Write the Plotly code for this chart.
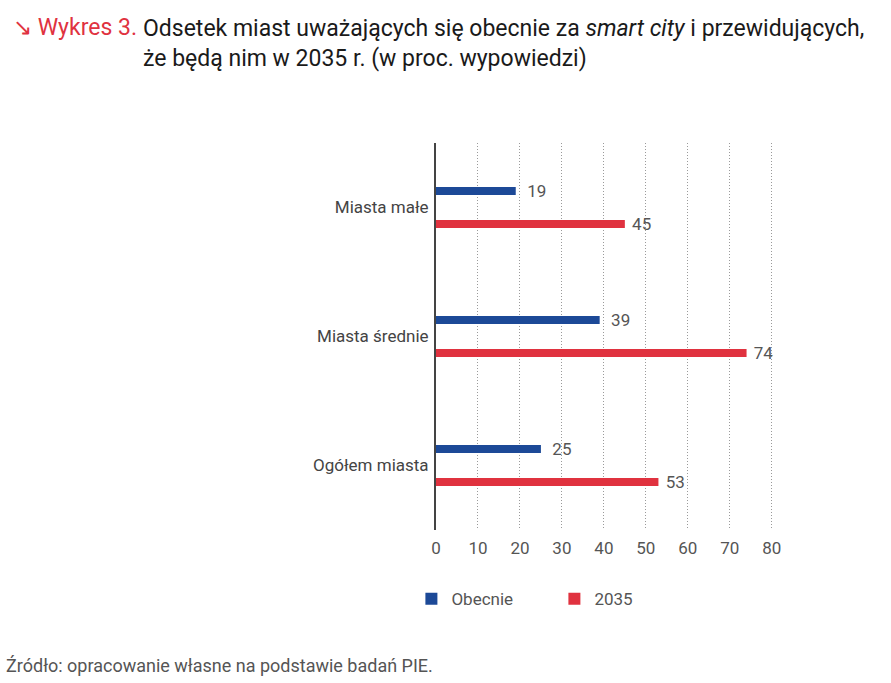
import plotly.graph_objects as go

categories = ["Miasta małe", "Miasta średnie", "Ogółem miasta"]
obecnie = [19, 39, 25]
r2035 = [45, 74, 53]
x_ticks = [0, 10, 20, 30, 40, 50, 60, 70, 80]

BLUE = "#1c4997"
RED = "#e0323f"
GREY = "#555555"
FONT = "Roboto"

fig = go.Figure()
fig.add_trace(go.Bar(
    name="Obecnie", y=categories, x=obecnie, orientation="h",
    marker=dict(color=BLUE, line=dict(width=0)),
    width=0.062, offset=-0.158,
    text=obecnie, textposition="outside", cliponaxis=False, constraintext="none",
    textfont=dict(family=FONT, size=17, color=GREY),
    texttemplate="  %{x}",
))
fig.add_trace(go.Bar(
    name="2035", y=categories, x=r2035, orientation="h",
    marker=dict(color=RED, line=dict(width=0)),
    width=0.062, offset=0.096,
    text=r2035, textposition="outside", cliponaxis=False, constraintext="none",
    textfont=dict(family=FONT, size=17, color=GREY),
    texttemplate=" %{x}",
))

fig.update_layout(
    width=891, height=683,
    margin=dict(l=436, r=118, t=143, b=153),
    paper_bgcolor="white", plot_bgcolor="white",
    barmode="overlay",
    font=dict(family=FONT, size=17, color=GREY),
    showlegend=True,
    legend=dict(orientation="h", x=-0.073, xanchor="left", y=-0.132, yanchor="top",
                font=dict(family=FONT, size=17, color=GREY),
                entrywidth=98, entrywidthmode="pixels"),
    xaxis=dict(range=[0, 80.3], tickvals=x_ticks, showgrid=True, gridcolor="#9a9a9a",
               griddash="1px,2px", gridwidth=1, zeroline=False, showline=False,
               tickfont=dict(family=FONT, size=17, color=GREY),
               ticks="outside", ticklen=3, tickcolor="rgba(0,0,0,0)"),
    yaxis=dict(type="category", autorange="reversed", showgrid=False, zeroline=False,
               showline=True, linecolor="#444444", linewidth=2,
               tickfont=dict(family=FONT, size=17, color="#444444"),
               ticks="outside", ticklen=2, tickcolor="rgba(0,0,0,0)"),
)

fig.add_annotation(xref="paper", yref="paper", x=(14 - 436) / 335, y=1 + (143 - 27) / 387,
                   xanchor="left", yanchor="middle", showarrow=False,
                   text="↘ Wykres 3.", font=dict(family=FONT, size=23, color=RED))
fig.add_annotation(xref="paper", yref="paper", x=(143 - 436) / 335, y=1 + (143 - 43) / 387,
                   xanchor="left", yanchor="middle", showarrow=False, align="left",
                   text="Odsetek miast uważających się obecnie za <i>smart city</i> i przewidujących,<br>że będą nim w 2035 r. (w proc. wypowiedzi)",
                   font=dict(family=FONT, size=23, color="#1a1a1a"))
fig.add_annotation(xref="paper", yref="paper", x=(7 - 436) / 335, y=-(665 - 530) / 387,
                   xanchor="left", yanchor="middle", showarrow=False,
                   text="Źródło: opracowanie własne na podstawie badań PIE.",
                   font=dict(family=FONT, size=18, color=GREY))

fig.write_html("out.html", config={"displayModeBar": False},
               post_script="document.body.style.margin='0';")
